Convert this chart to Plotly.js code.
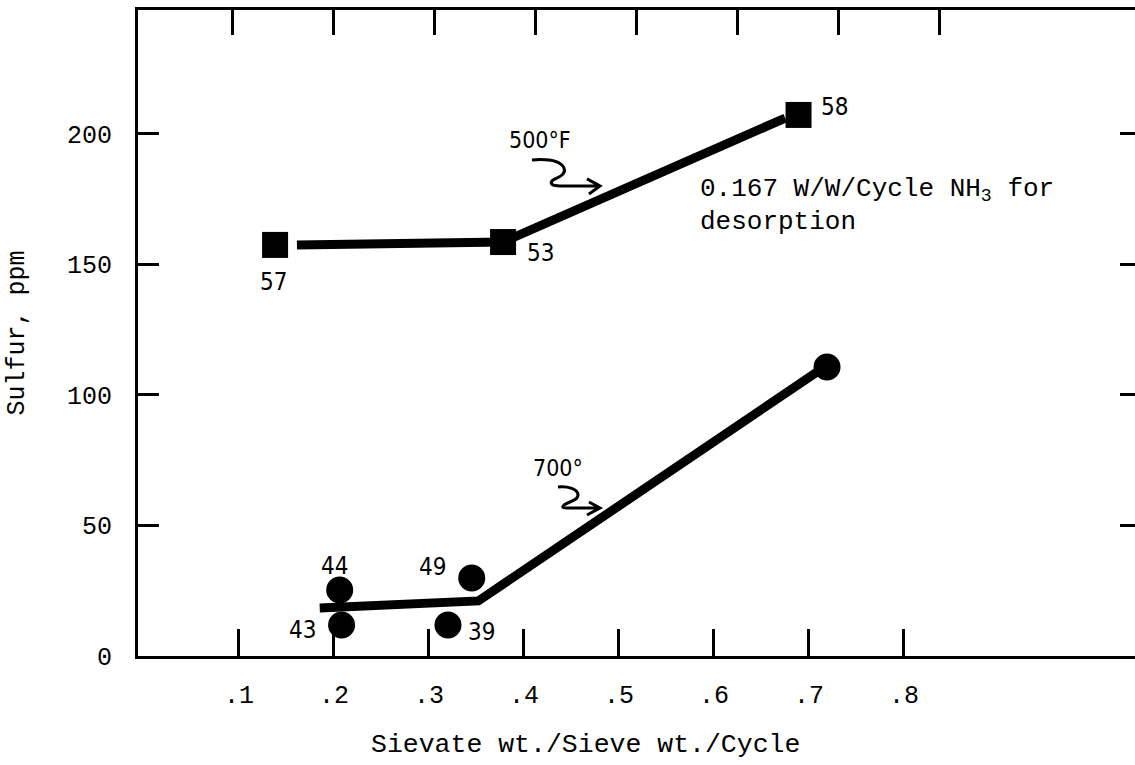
<!DOCTYPE html>
<html>
<head>
<meta charset="utf-8">
<script src="https://cdn.plot.ly/plotly-3.0.1.min.js"></script>
<style>
html,body{margin:0;padding:0;overflow:hidden;background:#fff;}
#chart{width:1142px;height:765px;}
</style>
</head>
<body>
<div id="chart"></div>
<script>
// ---- data ----
const xTickVals = [0.1, 0.2, 0.3, 0.4, 0.5, 0.6, 0.7, 0.8];
const xTickText = ['.1', '.2', '.3', '.4', '.5', '.6', '.7', '.8'];
const yTickVals = [0, 50, 100, 150, 200];
const yTickText = ['0', '50', '100', '150', '200'];

// 500°F runs (squares)
const run500X = [0.138, 0.378, 0.689];
const run500Y = [157.5, 158.6, 207.3];
const run500Labels = ['57', '53', '58'];
// hand-drawn curve through 500°F runs
const curve500X = [0.161, 0.378, 0.675];
const curve500Y = [157.5, 158.6, 206.1];

// 700° runs (circles)
const run700X = [0.206, 0.208, 0.345, 0.320, 0.719];
const run700Y = [25.3, 11.9, 29.9, 11.9, 110.7];
const run700Labels = ['44', '43', '49', '39', ''];
// hand-drawn curve through 700° runs
const curve700X = [0.185, 0.352, 0.710];
const curve700Y = [18.4, 21.1, 109.2];

// label pixel offsets (dx right, dy down) relative to each point
const off500 = [[-2, 37], [37, 11], [36, -8]];
const off700 = [[-5, -24], [-39, 5], [-39, -11], [34, 7], [0, 0]];

const monoFont = 'Liberation Mono, Courier New, monospace';
const letterFont = 'Liberation Sans Narrow, DejaVu Sans Condensed, Liberation Sans, sans-serif';

const traces = [
  {x: curve500X, y: curve500Y, mode: 'lines', line: {color: '#000', width: 9}, hoverinfo: 'skip', showlegend: false},
  {x: curve700X, y: curve700Y, mode: 'lines', line: {color: '#000', width: 9}, hoverinfo: 'skip', showlegend: false},
  {x: run500X, y: run500Y, mode: 'markers', marker: {symbol: 'square', size: 26, color: '#000'}, showlegend: false},
  {x: run700X, y: run700Y, mode: 'markers', marker: {symbol: 'circle', size: 27, color: '#000'}, showlegend: false},
  {x: [], y: [], xaxis: 'x2', mode: 'markers', showlegend: false}
];

const annotations = [];
run500X.forEach((x, i) => {
  if (!run500Labels[i]) return;
  annotations.push({x: x, y: run500Y[i], text: run500Labels[i], showarrow: false,
    xshift: off500[i][0], yshift: -off500[i][1], font: {family: letterFont, size: 24, color: '#000'}});
});
run700X.forEach((x, i) => {
  if (!run700Labels[i]) return;
  annotations.push({x: x, y: run700Y[i], text: run700Labels[i], showarrow: false,
    xshift: off700[i][0], yshift: -off700[i][1], font: {family: letterFont, size: 24, color: '#000'}});
});
annotations.push(
  {x: 0.417, y: 197.7, text: '500°F', showarrow: false, font: {family: letterFont, size: 23, color: '#000'}},
  {x: 0.436, y: 72.0, text: '700°', showarrow: false, font: {family: letterFont, size: 23, color: '#000'}},
  {x: 0.583, y: 178.5, xanchor: 'left', text: '0.167 W/W/Cycle NH<sub>3</sub> for', showarrow: false,
    font: {family: monoFont, size: 26, color: '#000'}},
  {x: 0.583, y: 166.3, xanchor: 'left', text: 'desorption', showarrow: false,
    font: {family: monoFont, size: 26, color: '#000'}},
  {xref: 'paper', yref: 'paper', x: 0.4457, y: -0.138, xanchor: 'center', yanchor: 'middle',
    text: 'Sievate wt./Sieve wt./Cycle', showarrow: false, font: {family: monoFont, size: 26.5, color: '#000'}}
);

// curly pointer arrows (pixel paths anchored at arrow tip)
const shapes = [
  {type: 'path', xref: 'x', yref: 'y', xsizemode: 'pixel', ysizemode: 'pixel', xanchor: 0.480, yanchor: 180.1,
   path: 'M-68,26 C-55,27 -40,26 -36,18 C-33,10 -45,8 -48,5 C-50,2 -48,0 -40,0 L0,0 M-13,7 L0,0 L-11,-8',
   line: {color: '#000', width: 3}},
  {type: 'path', xref: 'x', yref: 'y', xsizemode: 'pixel', ysizemode: 'pixel', xanchor: 0.480, yanchor: 56.7,
   path: 'M-42,21 C-32,22 -22,19 -22,13 C-22,7 -33,6 -36,3 C-39,0 -36,0 -30,0 L0,0 M-11,6 L0,0 L-13,-7',
   line: {color: '#000', width: 3}}
];

const layout = {
  width: 1142, height: 765,
  margin: {l: 138, r: 1, t: 10, b: 109, pad: 0},
  paper_bgcolor: '#fff', plot_bgcolor: '#fff',
  showlegend: false,
  xaxis: {range: [-0.0063, 1.0495], tickvals: xTickVals, ticktext: xTickText, ticks: 'inside', ticklen: 27, tickwidth: 3,
    tickcolor: '#000', showline: true, linewidth: 3, linecolor: '#000', showgrid: false, zeroline: false,
    tickfont: {family: monoFont, size: 25, color: '#000'}, ticklabelstandoff: 14, fixedrange: true},
  xaxis2: {overlaying: 'x', side: 'top', anchor: 'y', range: [0.0069, 1.0], tickvals: xTickVals, showticklabels: false,
    ticks: 'inside', ticklen: 25, tickwidth: 3, tickcolor: '#000', showline: true, linewidth: 3, linecolor: '#000',
    showgrid: false, zeroline: false, fixedrange: true},
  yaxis: {range: [0, 247.5], tickvals: yTickVals, ticktext: yTickText, ticks: 'inside', ticklen: 21, tickwidth: 3,
    tickcolor: '#000', showline: true, linewidth: 3, linecolor: '#000', mirror: 'ticks', showgrid: false, zeroline: false,
    tickfont: {family: monoFont, size: 25, color: '#000'}, ticklabelstandoff: 18, fixedrange: true,
    title: {text: 'Sulfur, ppm', font: {family: monoFont, size: 25, color: '#000'}, standoff: 36}},
  annotations: annotations,
  shapes: shapes
};

Plotly.newPlot('chart', traces, layout, {displayModeBar: false, staticPlot: true});
</script>
</body>
</html>
